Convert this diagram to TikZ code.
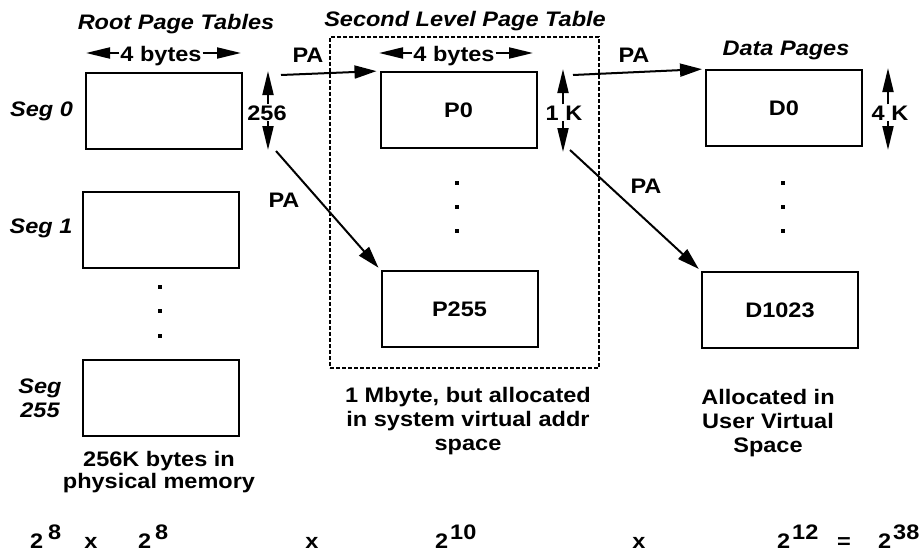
\documentclass[tikz,border=0pt]{standalone}
\usepackage{fontspec}
\newfontfamily\diagfont{Liberation Sans}[FakeStretch=1.12]
\usetikzlibrary{arrows.meta}

\begin{document}
\begin{tikzpicture}[x=1pt,y=-1pt,
  lbl/.style={font=\diagfont\bfseries\fontsize{21}{24}\selectfont, inner sep=1pt},
  ttl/.style={font=\diagfont\bfseries\itshape\fontsize{21}{24}\selectfont, inner sep=1pt},
  tbl/.style={draw, line width=2pt, minimum width=156pt, minimum height=76pt,
              inner sep=0pt, font=\diagfont\bfseries\fontsize{21}{24}\selectfont},
  grp/.style={draw, line width=1.3pt, dash pattern=on 4pt off 2pt,
              minimum width=269pt, minimum height=331pt, inner sep=0pt},
  dim/.style={line width=2pt, -{Triangle[length=24pt,width=11pt]}},
  ptr/.style={line width=2pt, -{Triangle[length=22pt,width=13pt]}, shorten >=3pt},
  eqn/.style={font=\diagfont\bfseries\fontsize{21}{24}\selectfont, inner sep=0pt, anchor=base west},
]
\useasboundingbox (0,0) rectangle (922,554);

% column titles
\node[ttl, anchor=base] (t_root)   at (176,29) {Root Page Tables};
\node[ttl, anchor=base] (t_second) at (465,26) {Second Level Page Table};
\node[ttl, anchor=base] (t_data)   at (786,55) {Data Pages};

% second level table is kept in virtual memory
\node[grp] (grp) at (464.5,202.5) {};

% page table entries and data pages
\node[tbl] (r0)    at (164,110.5) {};
\node[tbl] (r1)    at (161,230) {};
\node[tbl] (r255)  at (161,398) {};
\node[tbl] (p0)    at (458.5,110) {P0};
\node[tbl] (p255)  at (459.5,309) {P255};
\node[tbl] (d0)    at (784,108) {D0};
\node[tbl] (d1023) at (780,310) {D1023};

% segment labels (multi-line nodes sit on their last baseline)
\node[ttl, anchor=base] (s0) at (41.5,116) {Seg 0};
\node[ttl, anchor=base] (s1) at (41,233) {Seg 1};
\node[ttl, anchor=base, align=center] (s255) at (40,417) {Seg\\255};

% elided entries
\foreach \x/\y in {160/287, 160/311, 160/336,
                   457/183, 457/207, 457/231,
                   783/183, 783/207, 783/231}
  \fill (\x-1.75,\y-1.75) rectangle ++(3.5,3.5);

% entry widths
\node[lbl, anchor=base] (w_root) at (161,61) {4 bytes};
\coordinate (w_root_l) at (86,53);
\coordinate (w_root_r) at (241,53);
\draw[dim] (w_root.west |- w_root_l) -- (w_root_l);
\draw[dim] (w_root.east |- w_root_r) -- (w_root_r);

\node[lbl, anchor=base] (w_sec) at (454,61) {4 bytes};
\coordinate (w_sec_l) at (379,53);
\coordinate (w_sec_r) at (533,53);
\draw[dim] (w_sec.west |- w_sec_l) -- (w_sec_l);
\draw[dim] (w_sec.east |- w_sec_r) -- (w_sec_r);

% table and page sizes
\node[lbl, anchor=base] (h_root) at (267,120) {256};
\coordinate (h_root_t) at (268,71);
\coordinate (h_root_b) at (268,150);
\draw[dim] (h_root.north -| h_root_t) -- (h_root_t);
\draw[dim] (h_root.south -| h_root_b) -- (h_root_b);

\node[lbl, anchor=base] (h_sec) at (564,120) {1 K};
\coordinate (h_sec_t) at (563,69);
\coordinate (h_sec_b) at (563,152);
\draw[dim] (h_sec.north -| h_sec_t) -- (h_sec_t);
\draw[dim] (h_sec.south -| h_sec_b) -- (h_sec_b);

\node[lbl, anchor=base] (h_data) at (890,120) {4 K};
\coordinate (h_data_t) at (888,68);
\coordinate (h_data_b) at (888,150);
\draw[dim] (h_data.north -| h_data_t) -- (h_data_t);
\draw[dim] (h_data.south -| h_data_b) -- (h_data_b);

% physical address pointers
\node[lbl, anchor=base] (pa_a) at (308,62) {PA};
\node[lbl, anchor=base] (pa_b) at (284,207) {PA};
\node[lbl, anchor=base] (pa_c) at (634,62) {PA};
\node[lbl, anchor=base] (pa_d) at (646,193) {PA};
\coordinate (src_a) at (281,75);
\coordinate (src_b) at (276,151);
\coordinate (src_c) at (573,75);
\coordinate (src_d) at (570,150);
\draw[ptr] (src_a) -- (p0.north west);
\draw[ptr] (src_b) -- (p255.north west);
\draw[ptr] (src_c) -- (d0.north west);
\draw[ptr] (src_d) -- (d1023.north west);

% notes under each column (anchored on the last line's baseline)
\node[lbl, anchor=base, align=center, font=\diagfont\bfseries\fontsize{21}{22}\selectfont]
  (n_root) at (159,488) {256K bytes in\\physical memory};
\node[lbl, anchor=base, align=center] (n_sec) at (468,450)
  {1 Mbyte, but allocated\\in system virtual addr\\space};
\node[lbl, anchor=base, align=center] (n_data) at (768,452)
  {Allocated in\\User Virtual\\Space};

% address space arithmetic
\node[eqn] (e1)  at (30,548)  {2};
\node[eqn] (e1s) at (48,539)  {8};
\node[eqn, anchor=base] (x1) at (91,548) {x};
\node[eqn] (e2)  at (138,548) {2};
\node[eqn] (e2s) at (155,539) {8};
\node[eqn, anchor=base] (x2) at (312,548) {x};
\node[eqn] (e3)  at (435,548) {2};
\node[eqn] (e3s) at (450,539) {10};
\node[eqn, anchor=base] (x3) at (639,548) {x};
\node[eqn] (e4)  at (777,548) {2};
\node[eqn] (e4s) at (792,539) {12};
\node[eqn, anchor=base] (eq) at (844,548) {=};
\node[eqn] (e5)  at (878,548) {2};
\node[eqn] (e5s) at (893,539) {38};
\end{tikzpicture}
\end{document}
